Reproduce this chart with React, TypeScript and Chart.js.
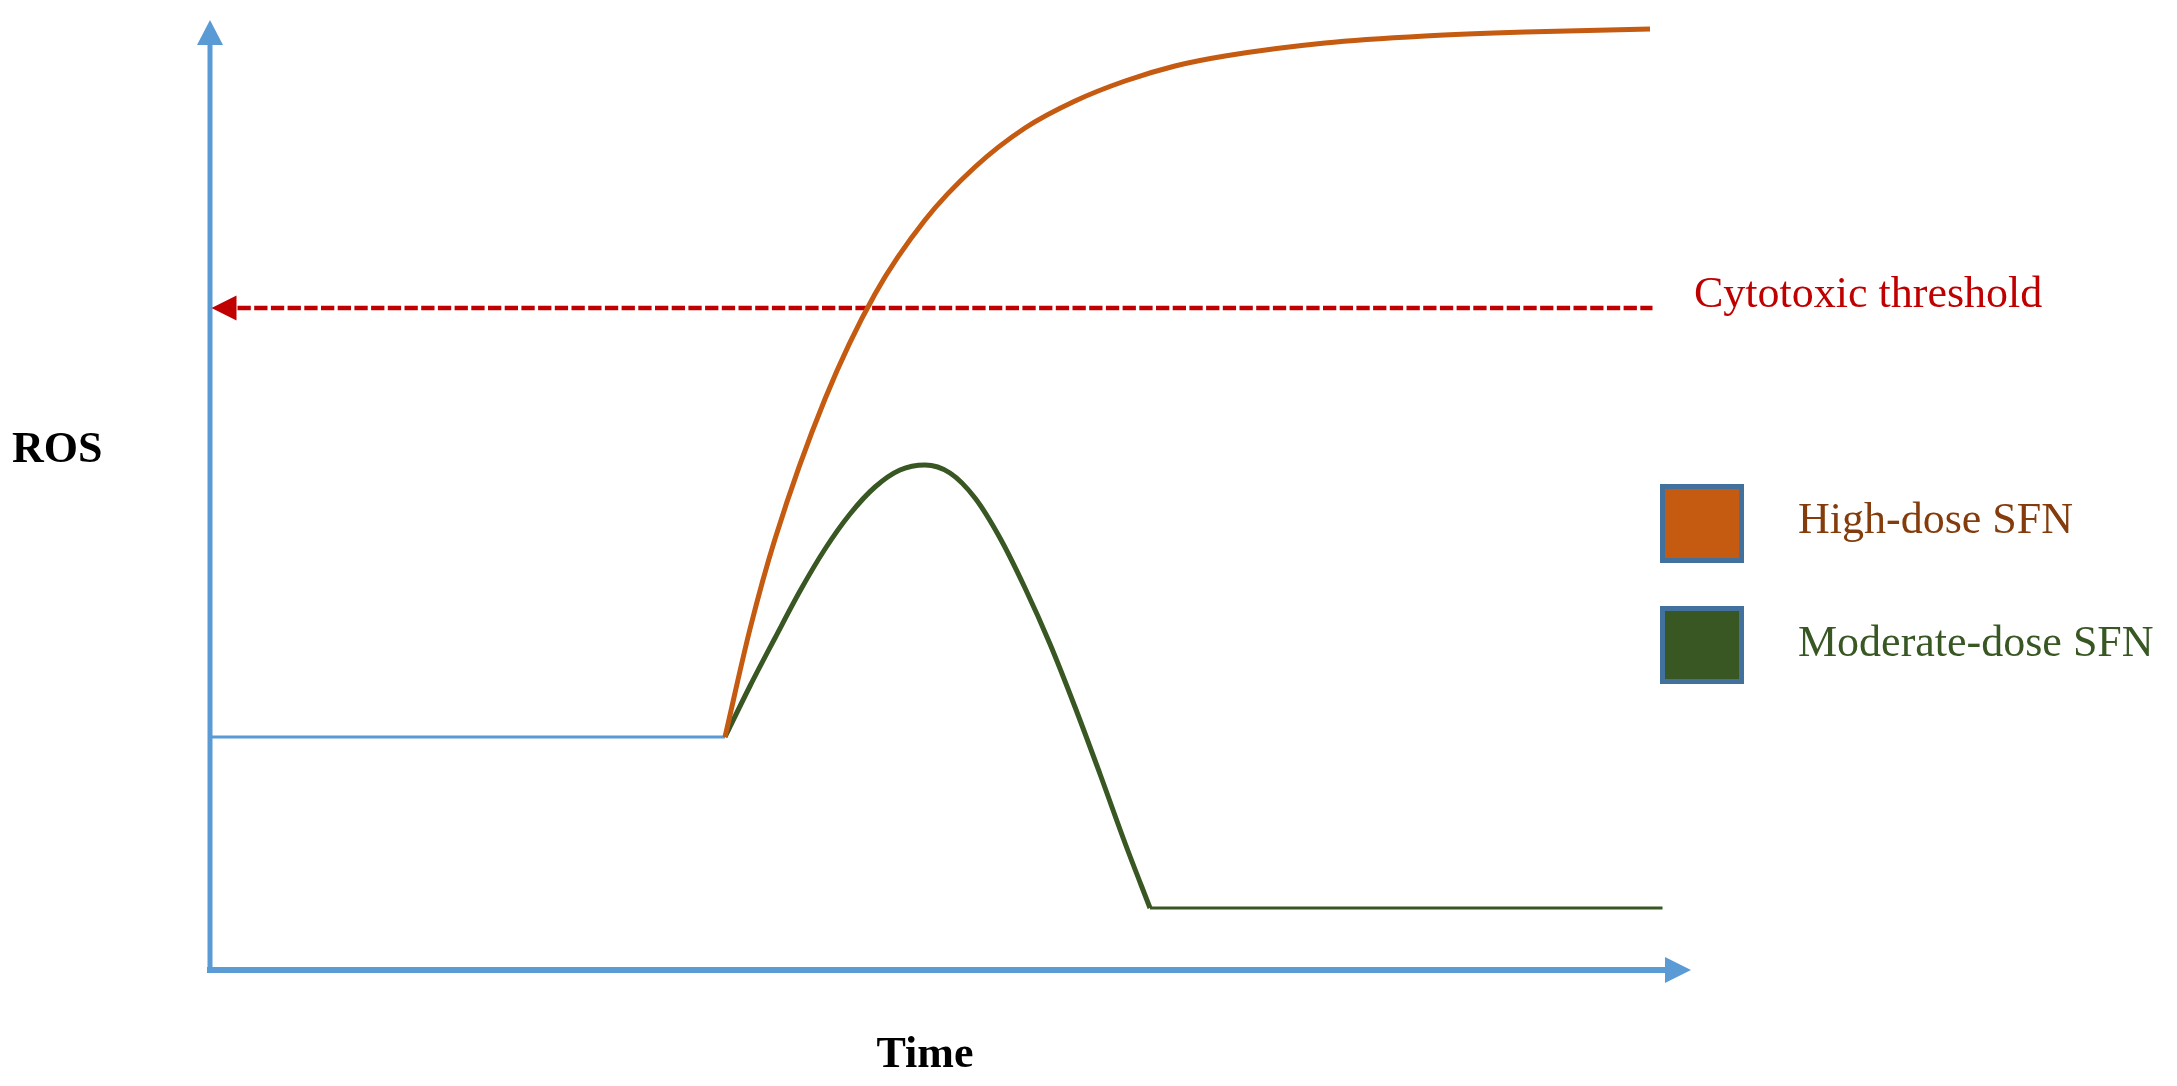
import React, { useEffect, useRef } from "react";
import { Chart, registerables } from "chart.js";

Chart.register(...registerables);

// ---- Data (schematic units) ----
const xAxisMax = 59.24; // time axis end (arrow tip)
const yAxisMax = 95; // ROS axis end (arrow tip)

const baselineTime = [0, 20.6];
const baselineROS = [23.3, 23.3];

const highTime = [20.6, 21.6, 22.6, 24.6, 26.6, 28.6, 30.6, 32.6, 34.6, 36.6, 38.6, 40.6, 44.6, 48.6, 52.6, 57.6];
const highROS = [23.3, 34.1, 43.1, 57.1, 67.6, 75.0, 80.3, 84.2, 86.9, 88.9, 90.4, 91.4, 92.7, 93.4, 93.8, 94.1];

const moderateTime = [20.6, 21.6, 22.6, 23.6, 24.6, 25.6, 26.6, 27.6, 28.6, 29.6, 30.6, 31.6, 32.6, 33.6, 34.6, 35.6, 36.6, 37.6];
const moderateROS = [23.3, 28.4, 33.2, 37.9, 42.1, 45.6, 48.3, 50.0, 50.5, 49.7, 47.2, 43.2, 38.2, 32.6, 26.3, 19.6, 12.7, 6.2];

const moderateLateTime = [37.6, 58.1];
const moderateLateROS = [6.2, 6.2];

const thresholdROS = 66.2;
const thresholdTime = [1.1, 57.7];
const thresholdTip = 0.06;

const yAxisTitle = "ROS";
const xAxisTitle = "Time";
const thresholdLabel = "Cytotoxic threshold";
const legendLabels = ["High-dose SFN", "Moderate-dose SFN"];

// ---- Styles ----
const AXIS_COLOR = "#5B9BD5";
const HIGH_COLOR = "#C55A11";
const MOD_COLOR = "#385723";
const THRESH_COLOR = "#C00000";
const LEGEND_BORDER = "#41719C";
const HIGH_TEXT = "#843C0C";
const SERIF = '"Liberation Serif", "Times New Roman", Times, serif';

const pts = (xs: number[], ys: number[]) => xs.map((x, i) => ({ x, y: ys[i] }));

const overlayPlugin = {
  id: "overlay",
  beforeDatasetsDraw(chart: any) {
    const { ctx } = chart;
    const xs = chart.scales.x;
    const ys = chart.scales.y;
    const x0 = xs.getPixelForValue(0);
    const y0 = ys.getPixelForValue(0);
    const xEnd = xs.getPixelForValue(xAxisMax);
    const yEnd = ys.getPixelForValue(yAxisMax);
    ctx.save();
    ctx.strokeStyle = AXIS_COLOR;
    ctx.fillStyle = AXIS_COLOR;
    // y axis
    ctx.lineWidth = 5;
    ctx.beginPath();
    ctx.moveTo(x0, y0 + 3);
    ctx.lineTo(x0, yEnd + 24);
    ctx.stroke();
    ctx.beginPath();
    ctx.moveTo(x0, yEnd);
    ctx.lineTo(x0 - 13, yEnd + 25);
    ctx.lineTo(x0 + 13, yEnd + 25);
    ctx.closePath();
    ctx.fill();
    // x axis
    ctx.lineWidth = 6;
    ctx.beginPath();
    ctx.moveTo(x0 - 3, y0);
    ctx.lineTo(xEnd - 25, y0);
    ctx.stroke();
    ctx.beginPath();
    ctx.moveTo(xEnd, y0);
    ctx.lineTo(xEnd - 26, y0 - 13);
    ctx.lineTo(xEnd - 26, y0 + 13);
    ctx.closePath();
    ctx.fill();
    ctx.restore();
  },
  afterDatasetsDraw(chart: any) {
    const { ctx } = chart;
    const xs = chart.scales.x;
    const ys = chart.scales.y;
    const ty = ys.getPixelForValue(thresholdROS);
    const tx = xs.getPixelForValue(thresholdTip);
    ctx.save();
    // threshold arrowhead
    ctx.fillStyle = THRESH_COLOR;
    ctx.beginPath();
    ctx.moveTo(tx, ty);
    ctx.lineTo(tx + 25, ty - 12.5);
    ctx.lineTo(tx + 25, ty + 12.5);
    ctx.closePath();
    ctx.fill();

    ctx.textBaseline = "alphabetic";
    // axis titles
    ctx.fillStyle = "#000000";
    ctx.font = `bold 44px ${SERIF}`;
    ctx.textAlign = "left";
    ctx.fillText(yAxisTitle, 12, 462);
    ctx.textAlign = "center";
    ctx.fillText(xAxisTitle, 925, 1067);

    // threshold label
    ctx.textAlign = "left";
    ctx.font = `44px ${SERIF}`;
    ctx.fillStyle = THRESH_COLOR;
    ctx.fillText(thresholdLabel, 1694, 307);

    // legend
    const boxes = [
      { y: 486.5, h: 74, fill: HIGH_COLOR, text: HIGH_TEXT, base: 533 },
      { y: 608.5, h: 73, fill: MOD_COLOR, text: MOD_COLOR, base: 656 },
    ];
    boxes.forEach((b, i) => {
      ctx.fillStyle = b.fill;
      ctx.fillRect(1662.5, b.y, 79, b.h);
      ctx.lineWidth = 5;
      ctx.strokeStyle = LEGEND_BORDER;
      ctx.strokeRect(1662.5, b.y, 79, b.h);
      ctx.fillStyle = b.text;
      ctx.fillText(legendLabels[i], 1798, b.base);
    });
    ctx.restore();
  },
};

export default function App() {
  const canvasRef = useRef<HTMLCanvasElement | null>(null);

  useEffect(() => {
    const canvas = canvasRef.current;
    if (!canvas) return;
    const chart = new Chart(canvas, {
      type: "line",
      data: {
        datasets: [
          {
            label: "baseline",
            data: pts(baselineTime, baselineROS),
            borderColor: AXIS_COLOR,
            borderWidth: 3,
            pointRadius: 0,
            order: 5,
          },
          {
            label: "threshold",
            data: pts(thresholdTime, [thresholdROS, thresholdROS]),
            borderColor: THRESH_COLOR,
            borderWidth: 4.5,
            borderDash: [13.3, 3.4],
            pointRadius: 0,
            order: 4,
          },
          {
            label: legendLabels[1],
            data: pts(moderateTime, moderateROS),
            borderColor: MOD_COLOR,
            borderWidth: 5,
            cubicInterpolationMode: "monotone",
            pointRadius: 0,
            order: 3,
          },
          {
            label: legendLabels[1] + " late",
            data: pts(moderateLateTime, moderateLateROS),
            borderColor: MOD_COLOR,
            borderWidth: 3,
            pointRadius: 0,
            order: 2,
          },
          {
            label: legendLabels[0],
            data: pts(highTime, highROS),
            borderColor: HIGH_COLOR,
            borderWidth: 5,
            cubicInterpolationMode: "monotone",
            pointRadius: 0,
            order: 1,
          },
        ],
      },
      options: {
        animation: false,
        responsive: false,
        devicePixelRatio: 1,
        clip: false as any,
        layout: { padding: { left: 210, right: 486, top: 20, bottom: 116 } },
        scales: {
          x: { type: "linear", min: 0, max: xAxisMax, display: false },
          y: { type: "linear", min: 0, max: yAxisMax, display: false },
        },
        plugins: {
          legend: { display: false },
          tooltip: { enabled: false },
        },
        elements: { point: { radius: 0 } },
      },
      plugins: [overlayPlugin],
    });
    return () => chart.destroy();
  }, []);

  return (
    <div style={{ position: "absolute", left: 0, top: 0, width: 2177, height: 1086, background: "#ffffff" }}>
      <canvas ref={canvasRef} width={2177} height={1086} style={{ display: "block", width: 2177, height: 1086 }} />
    </div>
  );
}
